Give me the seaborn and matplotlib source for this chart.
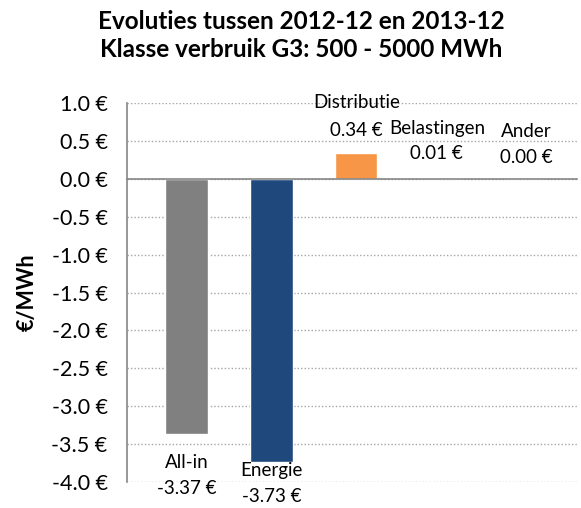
import matplotlib
matplotlib.use("Agg")
import matplotlib.pyplot as plt
import seaborn as sns
import pandas as pd

categories = ["All-in", "Energie", "Distributie", "Belastingen", "Ander"]
values = [-3.37, -3.73, 0.34, 0.01, 0.00]
colors = ["#808080", "#1F497D", "#F79646", "#C0504D", "#9BBB59"]
yticks = [1.0, 0.5, 0.0, -0.5, -1.0, -1.5, -2.0, -2.5, -3.0, -3.5, -4.0]

sns.set_style("white")
plt.rcParams["font.family"] = ["Lato", "DejaVu Sans"]
plt.rcParams["text.color"] = "black"

df = pd.DataFrame({"cat": categories, "val": values})

fig = plt.figure(figsize=(5.81, 5.08), dpi=100)
ax = fig.add_axes([0.2186, 0.0512, 0.993 - 0.2186, 0.797 - 0.0512])
sns.barplot(data=df, x="cat", y="val", hue="cat", palette=colors, legend=False,
            width=0.5, ax=ax, saturation=1)

ax.set_ylim(-4, 1)
ax.set_xlim(-0.7, 4.6)
ax.set_yticks(yticks)
ax.set_yticklabels([f"{t:.1f} €" for t in yticks], fontsize=15.5, color="black")
ax.set_xticks([])
ax.set_xlabel("")
ax.set_ylabel("€/MWh", fontsize=15.5, fontweight="bold", labelpad=10, color="black")
for t in yticks:
    ax.axhline(t, color="#A6A6A6", lw=1, ls=(0, (1, 1.5)), zorder=0)
ax.tick_params(axis="y", length=6, color="#868686", width=1.2, pad=8)
for s in ["top", "right"]:
    ax.spines[s].set_visible(False)
ax.spines["left"].set_color("#868686")
ax.spines["left"].set_linewidth(1.2)
ax.spines["bottom"].set_position(("data", 0))
ax.spines["bottom"].set_color("#868686")
ax.spines["bottom"].set_linewidth(1.2)

# data labels (category name + value)
lab_fs = 13.5
def label(i, dy_name, dy_val, dx=0.0):
    ax.text(i + dx, values[i] + dy_name, categories[i], ha="center", va="center", fontsize=lab_fs)
    ax.text(i + dx, values[i] + dy_val, f"{values[i]:.2f} €", ha="center", va="center", fontsize=lab_fs)

label(0, -0.37, -0.71)
label(1, -0.12, -0.46)
label(2, 0.67, 0.30)
label(3, 0.65, 0.32, dx=-0.05)
label(4, 0.63, 0.28)

fig.text(0.518, 0.958, "Evoluties tussen 2012-12 en 2013-12", ha="center", va="center",
         fontsize=17.5, fontweight="bold")
fig.text(0.518, 0.903, "Klasse verbruik G3: 500 - 5000 MWh", ha="center", va="center",
         fontsize=17.5, fontweight="bold")

fig.savefig("out.png", dpi=100)
